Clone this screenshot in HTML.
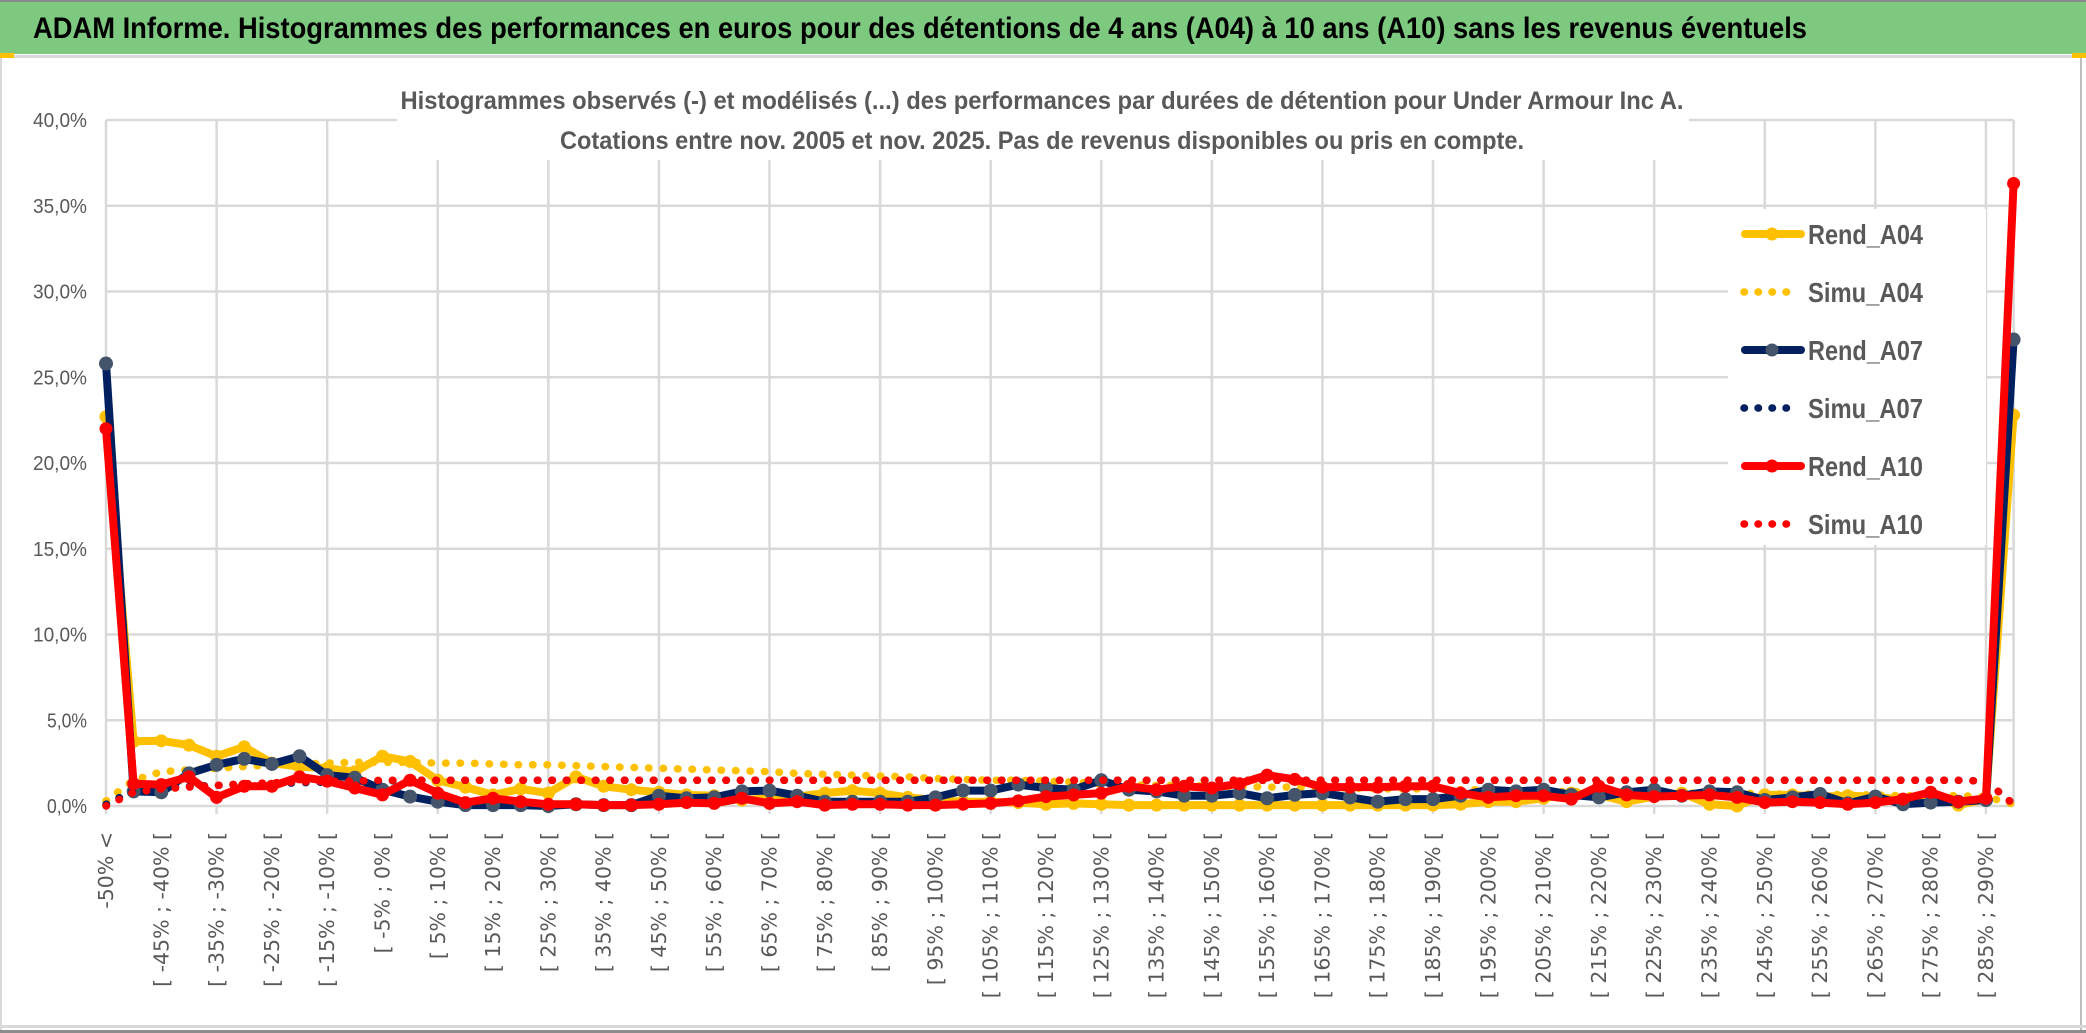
<!DOCTYPE html>
<html><head><meta charset="utf-8"><style>
html,body{margin:0;padding:0;background:#fff;}
svg{display:block;}
</style></head><body>
<svg id="chart" width="2086" height="1033" viewBox="0 0 2086 1033" xmlns="http://www.w3.org/2000/svg">
<rect x="0" y="0" width="2086" height="1033" fill="#fff"/>
<rect x="0" y="0" width="2086" height="2" fill="#8c8c8c"/>
<rect x="0" y="2" width="2086" height="52" fill="#7dc97f"/>
<text x="33" y="38" font-family="'Liberation Sans Narrow','Liberation Sans',sans-serif" font-weight="bold" font-size="30" fill="#000" textLength="1774" lengthAdjust="spacingAndGlyphs">ADAM Informe. Histogrammes des performances en euros pour des détentions de 4 ans (A04) à 10 ans (A10) sans les revenus éventuels</text>
<rect x="0" y="55" width="2086" height="3" fill="#d9d9d9"/>
<rect x="0" y="53" width="14" height="5" fill="#ffc000"/>
<rect x="2072" y="53" width="14" height="5" fill="#ffc000"/>
<rect x="0" y="58" width="2" height="972" fill="#d9d9d9"/>
<rect x="2080" y="58" width="2" height="972" fill="#bfbfbf"/>
<rect x="0" y="1025" width="2086" height="3" fill="#d9d9d9"/>
<rect x="0" y="1030" width="2086" height="3" fill="#8c8c8c"/>
<g id="grid"></g>
<g id="yaxis"></g>
<g id="xaxis"></g>
<g id="series"></g>
<rect x="397" y="82" width="1292" height="78" fill="#fff"/>
<text x="1042" y="109" text-anchor="middle" font-family="'Liberation Sans Narrow','Liberation Sans',sans-serif" font-weight="bold" font-size="25" fill="#595959" textLength="1283" lengthAdjust="spacingAndGlyphs">Histogrammes observés (-) et modélisés (...) des performances par durées de détention pour Under Armour Inc A.</text>
<text x="1042" y="149" text-anchor="middle" font-family="'Liberation Sans Narrow','Liberation Sans',sans-serif" font-weight="bold" font-size="25" fill="#595959" textLength="964" lengthAdjust="spacingAndGlyphs">Cotations entre nov. 2005 et nov. 2025. Pas de revenus disponibles ou pris en compte.</text>
<g id="legend"></g>
</svg>
<script>
const categories = (function(){const c=["-50% <"];for(let k=1;k<69;k++){const lo=-55+5*k;c.push("[ "+lo+"% ; "+(lo+5)+"% [");}c.push("> 290%");return c;})();
const yTicks = [0,5,10,15,20,25,30,35,40];
const yTickLabels = ["0,0%","5,0%","10,0%","15,0%","20,0%","25,0%","30,0%","35,0%","40,0%"];
const seriesNames = ["Rend_A04","Simu_A04","Rend_A07","Simu_A07","Rend_A10","Simu_A10"];
const rendA04 = [22.7,3.77,3.8,3.55,2.9,3.45,2.5,2.3,2.2,2.0,2.9,2.6,1.5,1.1,0.65,1.0,0.75,1.7,1.15,0.95,0.8,0.65,0.6,0.35,0.45,0.55,0.75,0.9,0.75,0.5,0.35,0.25,0.25,0.2,0.1,0.15,0.1,0.05,0.05,0.05,0.05,0.05,0.05,0.05,0.05,0.05,0.05,0.05,0.05,0.1,0.25,0.25,0.45,0.75,0.65,0.25,0.55,0.75,0.1,0.0,0.65,0.65,0.55,0.6,0.55,0.35,0.65,0.05,0.4,22.8];
const simuA04 = [0.3,1.5,2.0,2.1,2.2,2.3,2.4,2.45,2.5,2.55,2.55,2.55,2.5,2.5,2.45,2.4,2.4,2.35,2.3,2.25,2.2,2.15,2.1,2.05,2.0,1.9,1.85,1.8,1.75,1.7,1.6,1.55,1.5,1.5,1.45,1.4,1.3,1.25,1.2,1.2,1.15,1.15,1.1,1.1,1.05,1.05,1.0,1.0,1.0,0.95,0.95,0.9,0.85,0.85,0.8,0.8,0.8,0.75,0.75,0.75,0.7,0.7,0.7,0.65,0.65,0.6,0.6,0.6,0.55,0.1];
const rendA07 = [25.8,0.85,0.8,1.9,2.4,2.75,2.45,2.9,1.8,1.65,0.95,0.55,0.25,0.05,0.05,0.05,0.0,0.1,0.05,0.05,0.6,0.45,0.5,0.85,0.9,0.6,0.25,0.25,0.25,0.25,0.5,0.9,0.9,1.25,1.05,0.95,1.5,0.95,0.85,0.6,0.6,0.75,0.45,0.65,0.75,0.5,0.25,0.4,0.4,0.6,0.95,0.85,0.95,0.65,0.5,0.8,0.95,0.6,0.85,0.8,0.35,0.5,0.7,0.15,0.55,0.1,0.2,0.25,0.35,27.2];
const simuA07 = [0.1,0.9,1.1,1.15,1.2,1.25,1.3,1.35,1.4,1.45,1.45,1.5,1.5,1.5,1.5,1.5,1.5,1.5,1.5,1.5,1.5,1.5,1.5,1.5,1.5,1.5,1.5,1.5,1.5,1.5,1.5,1.5,1.5,1.5,1.5,1.5,1.5,1.5,1.5,1.5,1.5,1.5,1.5,1.5,1.5,1.5,1.5,1.5,1.5,1.5,1.5,1.5,1.5,1.5,1.5,1.5,1.5,1.5,1.5,1.5,1.5,1.5,1.5,1.5,1.5,1.5,1.5,1.5,1.45,0.1];
const rendA10 = [22.0,1.3,1.25,1.7,0.5,1.15,1.15,1.7,1.45,1.05,0.65,1.5,0.75,0.2,0.45,0.25,0.1,0.1,0.05,0.05,0.1,0.2,0.15,0.45,0.15,0.25,0.05,0.1,0.1,0.05,0.05,0.1,0.15,0.3,0.55,0.65,0.75,1.15,0.95,1.15,1.05,1.3,1.8,1.55,1.1,1.1,1.1,1.15,1.15,0.75,0.5,0.6,0.6,0.4,1.15,0.65,0.55,0.6,0.65,0.5,0.2,0.25,0.2,0.1,0.2,0.4,0.8,0.25,0.45,36.3];
const simuA10 = [0.0,0.8,1.0,1.1,1.2,1.3,1.35,1.4,1.45,1.45,1.5,1.5,1.5,1.5,1.5,1.5,1.5,1.5,1.5,1.5,1.5,1.5,1.5,1.5,1.5,1.5,1.5,1.5,1.5,1.5,1.5,1.5,1.5,1.5,1.5,1.5,1.5,1.5,1.5,1.5,1.5,1.5,1.5,1.5,1.5,1.5,1.5,1.5,1.5,1.5,1.5,1.5,1.5,1.5,1.5,1.5,1.5,1.5,1.5,1.5,1.5,1.5,1.5,1.5,1.5,1.5,1.5,1.5,1.45,0.1];

const NS="http://www.w3.org/2000/svg";
const X0=106, X1=2013.6, Y0=806, Y40=120;
function xScale(i){return X0+(X1-X0)*i/(categories.length-1);}
function yScale(v){return Y0-(Y0-Y40)*v/40;}
function mk(tag,attrs,parent){const e=document.createElementNS(NS,tag);for(const k in attrs)e.setAttribute(k,attrs[k]);parent.appendChild(e);return e;}

const grid=document.getElementById('grid');
yTicks.forEach(function(t){
  const l=mk('line',{x1:X0,x2:X1,y1:yScale(t),y2:yScale(t),stroke:'#d9d9d9','stroke-width':2.5},grid);
  
  
});
for(let i=0;i<categories.length;i+=4){
  const l=mk('line',{x1:xScale(i),x2:xScale(i),y1:Y40,y2:Y0+8,stroke:'#d9d9d9','stroke-width':2.5},grid);
  
  
}
const edge=mk('line',{x1:X1,x2:X1,y1:Y40,y2:Y0,stroke:'#d9d9d9','stroke-width':2.5},grid);



const yaxis=document.getElementById('yaxis');
yTicks.forEach(function(t,i){
  const lab=yTickLabels[i];
  const tx=mk('text',{x:87,y:yScale(t)+7,'text-anchor':'end','font-family':"'Liberation Sans Narrow','Liberation Sans',sans-serif",'font-size':20,fill:'#595959',textLength:lab.length>4?54:40,lengthAdjust:'spacingAndGlyphs'},yaxis);
  tx.textContent=lab;
  
  
});

const xaxis=document.getElementById('xaxis');
for(let i=0;i<categories.length;i+=2){
  const x=xScale(i)+7;
  const tx=mk('text',{x:0,y:0,transform:'translate('+x+',832) rotate(-90)','text-anchor':'end','font-family':"'DejaVu Sans',sans-serif",'font-size':20.5,fill:'#595959'},xaxis);
  tx.textContent=categories[i];
  
  
}

const seriesG=document.getElementById('series');
function pts(arr){return arr.map(function(v,i){return xScale(i).toFixed(1)+','+yScale(v).toFixed(1);}).join(' ');}
function dotted(arr,color,name){
  const p=mk('polyline',{points:pts(arr),fill:'none',stroke:color,'stroke-width':7.5,'stroke-linecap':'round','stroke-dasharray':'0.5 14'},seriesG);
  
  
}
function solid(arr,color,mcolor,mr,name){
  const p=mk('polyline',{points:pts(arr),fill:'none',stroke:color,'stroke-width':8,'stroke-linejoin':'round'},seriesG);
  
  
  arr.forEach(function(v,i){
    const c=mk('circle',{cx:xScale(i),cy:yScale(v),r:mr,fill:mcolor},seriesG);
    
    
  });
}
solid(rendA04,'#ffc000','#ffc000',6.5,'rend-a04');
dotted(simuA04,'#ffc000','simu-a04-line');
solid(rendA07,'#002060','#44546a',7,'rend-a07');
dotted(simuA07,'#002060','simu-a07-line');
dotted(simuA10,'#ff0000','simu-a10-line');
solid(rendA10,'#ff0000','#ff0000',6.5,'rend-a10');

const legend=document.getElementById('legend');
const lb=mk('rect',{x:1728,y:209,width:258,height:336,fill:'#fff'},legend);


const legColors=['#ffc000','#ffc000','#002060','#002060','#ff0000','#ff0000'];
const legMarker=['#ffc000',null,'#44546a',null,'#ff0000',null];
seriesNames.forEach(function(n,i){
  const y=234+i*58;
  const g=mk('g',{},legend);
  
  
  if(legMarker[i]){
    mk('line',{x1:1745,x2:1801,y1:y,y2:y,stroke:legColors[i],'stroke-width':8,'stroke-linecap':'round'},g);
    mk('circle',{cx:1772,cy:y,r:6.5,fill:legMarker[i]},g);
  } else {
    mk('line',{x1:1744,x2:1800,y1:y,y2:y,stroke:legColors[i],'stroke-width':7.5,'stroke-linecap':'round','stroke-dasharray':'0.5 13.5'},g);
  }
  const t=mk('text',{x:1808,y:y+10,'font-family':"'Liberation Sans Narrow','Liberation Sans',sans-serif",'font-weight':'bold','font-size':28,fill:'#595959',textLength:115,lengthAdjust:'spacingAndGlyphs'},g);
  t.textContent=n;
});
</script>
</body></html>
